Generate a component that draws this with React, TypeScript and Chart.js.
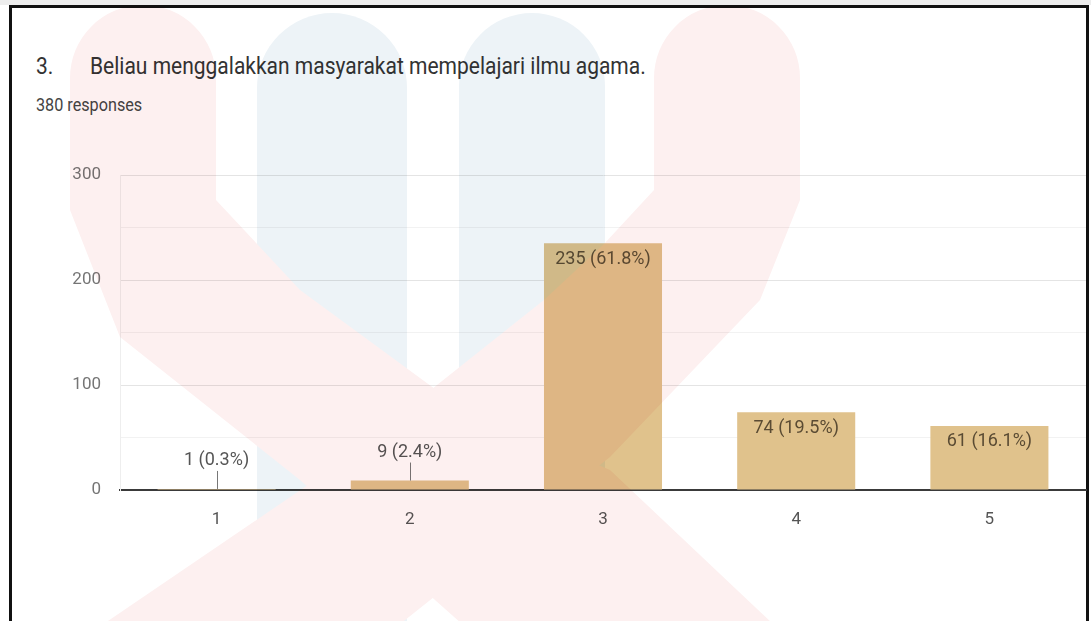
import React, { useEffect, useRef } from "react";
import { Chart, registerables } from "chart.js";

Chart.register(...registerables);

const categories = ["1", "2", "3", "4", "5"];
const responses = [1, 9, 235, 74, 61];
const totalResponses = 380;
const yTicks = [0, 100, 200, 300];

const titleNumber = "3.";
const titleText = "Beliau menggalakkan masyarakat mempelajari ilmu agama.";
const subtitleText = "380 responses";

const BAR_COLOR = "#e0c28c";

const labelPlugin = {
  id: "barValueLabels",
  afterDatasetsDraw(chart: any) {
    const ctx = chart.ctx;
    const meta = chart.getDatasetMeta(0);
    ctx.save();
    ctx.font = "18px Roboto";
    ctx.textAlign = "center";
    ctx.textBaseline = "middle";
    meta.data.forEach((bar: any, i: number) => {
      const v = responses[i];
      const pct = ((v / totalResponses) * 100).toFixed(1);
      const text = `${v} (${pct}%)`;
      const h = bar.base - bar.y;
      if (h < 30) {
        ctx.strokeStyle = "#777";
        ctx.lineWidth = 1;
        ctx.beginPath();
        ctx.moveTo(Math.round(bar.x) + 0.5, bar.y);
        ctx.lineTo(Math.round(bar.x) + 0.5, bar.y - 18);
        ctx.stroke();
        ctx.fillStyle = "#555";
        ctx.fillText(text, bar.x, bar.y - 28);
      } else {
        ctx.fillStyle = "#5a4b33";
        ctx.fillText(text, bar.x, bar.y + 16);
      }
    });
    ctx.restore();
  },
};

function Watermark() {
  const pink = "#fdf0f0";
  const blue = "#edf3f7";
  return (
    <svg
      width={1091}
      height={621}
      viewBox="0 0 1091 621"
      style={{
        position: "absolute",
        left: 0,
        top: 0,
        pointerEvents: "none",
        mixBlendMode: "multiply",
      }}
    >
      <path d="M257,88 A75,75 0 0 1 407,88 L407,640 L257,640 Z" fill={blue} />
      <path d="M459,86 A73,73 0 0 1 605,86 L605,640 L459,640 Z" fill={blue} />
      <path
        d="M70,78 A73,73 0 0 1 216,78 L216,200 L300,290 L450,400 L610,470 L790,640 L480,640 L300,480 L120,337 L70,210 Z"
        fill={pink}
      />
      <path
        d="M654,78 A73,73 0 0 1 800,78 L800,200 L760,300 L610,457 L380,640 L80,640 L330,470 L544,300 L604,244 L654,190 Z"
        fill={pink}
      />
    </svg>
  );
}

export default function App() {
  const canvasRef = useRef<HTMLCanvasElement | null>(null);

  useEffect(() => {
    if (!canvasRef.current) return;
    const chart = new Chart(canvasRef.current, {
      type: "bar",
      data: {
        labels: categories,
        datasets: [
          {
            data: responses,
            backgroundColor: BAR_COLOR,
            borderWidth: 0,
            barPercentage: 0.611,
            categoryPercentage: 1,
          },
        ],
      },
      options: {
        responsive: false,
        animation: false,
        devicePixelRatio: 1,
        layout: { padding: { top: 175, bottom: 81, left: 0, right: 5 } },
        plugins: {
          legend: { display: false },
          tooltip: { enabled: false },
          title: { display: false },
        },
        scales: {
          x: {
            grid: { display: false },
            border: { display: true, color: "#3a3a3a", width: 2 },
            ticks: {
              color: "#555",
              font: { family: "Roboto", size: 17 },
              padding: 12,
            },
            afterFit: (scale: any) => {
              scale.height = 50;
            },
          },
          y: {
            min: 0,
            max: 300,
            afterBuildTicks: (scale: any) => {
              const t: any[] = [];
              for (let v = 0; v <= 300; v += 50) t.push({ value: v });
              scale.ticks = t;
            },
            grid: {
              drawTicks: false,
              color: (c: any) =>
                c.tick && c.tick.value === 0
                  ? "rgba(0,0,0,0)"
                  : c.tick && c.tick.value % 100 === 0
                  ? "#e4e4e4"
                  : "#f2f2f2",
              lineWidth: 1,
            },
            border: { display: true, color: "#eeeeee", width: 1 },
            ticks: {
              color: "#757575",
              font: { family: "Roboto", size: 17 },
              padding: 19,
              callback: (value: any) =>
                yTicks.includes(Number(value)) ? String(value) : "",
            },
            afterFit: (scale: any) => {
              scale.width = 120;
            },
          },
        },
      },
      plugins: [labelPlugin],
    });
    return () => chart.destroy();
  }, []);

  return (
    <div
      style={{
        position: "fixed",
        left: 0,
        top: 0,
        width: 1091,
        height: 621,
        background: "#ffffff",
        overflow: "hidden",
        fontFamily: "Roboto, sans-serif",
      }}
    >
      <div
        style={{
          position: "absolute",
          left: 0,
          top: 0,
          width: 1091,
          height: 5,
          background: "#ededed",
        }}
      />
      <div
        style={{
          position: "absolute",
          left: 9,
          top: 5,
          width: 1080,
          height: 640,
          boxSizing: "border-box",
          borderTop: "3px solid #111",
          borderLeft: "3px solid #111",
          borderRight: "3px solid #111",
          background: "#fff",
        }}
      />
      <div
        style={{
          position: "absolute",
          left: 36,
          top: 52,
          fontSize: 24,
          lineHeight: "28px",
          color: "#333",
          whiteSpace: "nowrap",
          transform: "scaleX(0.875)",
          transformOrigin: "left top",
        }}
      >
        {titleNumber}
      </div>
      <div
        style={{
          position: "absolute",
          left: 90,
          top: 52,
          fontSize: 24,
          lineHeight: "28px",
          color: "#333",
          whiteSpace: "nowrap",
          transform: "scaleX(0.875)",
          transformOrigin: "left top",
        }}
      >
        {titleText}
      </div>
      <div
        style={{
          position: "absolute",
          left: 36,
          top: 94,
          fontSize: 18,
          lineHeight: "22px",
          color: "#444",
          whiteSpace: "nowrap",
          transform: "scaleX(0.9)",
          transformOrigin: "left top",
        }}
      >
        {subtitleText}
      </div>
      <canvas
        ref={canvasRef}
        width={1091}
        height={621}
        style={{ position: "absolute", left: 0, top: 0, width: 1091, height: 621 }}
      />
      <Watermark />
    </div>
  );
}
